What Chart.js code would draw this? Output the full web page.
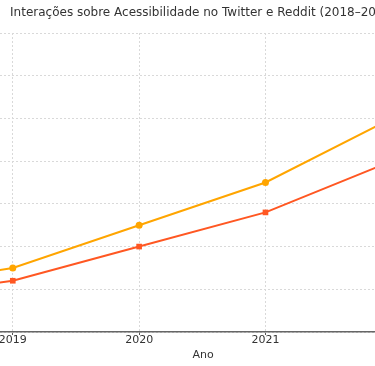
<!DOCTYPE html>
<html>
<head>
<meta charset="utf-8">
<script src="https://cdn.jsdelivr.net/npm/chart.js@4/dist/chart.umd.min.js"></script>
<style>
  html, body { margin: 0; padding: 0; background: #fff; overflow: hidden; width: 375px; height: 366px; }
  #wrap { position: absolute; left: 0; top: 0; width: 406px; height: 366px; }
</style>
</head>
<body>
<div id="wrap"><canvas id="c" width="406" height="366"></canvas></div>
<script>
const titleText = "Interações sobre Acessibilidade no Twitter e Reddit (2018–2022)";
const xAxisTitle = "Ano";
const years = [2018, 2019, 2020, 2021, 2022];
const tickYears = [2019, 2020, 2021];
const seriesA = [100, 150, 250, 350, 500];   // orange, circles
const seriesB = [80, 120, 200, 280, 400];    // red-orange, squares
const seriesAName = "Twitter";
const seriesBName = "Reddit";

const toPts = (vals) => years.map((y, i) => ({ x: y, y: vals[i] }));
const font = "'DejaVu Sans', sans-serif";

new Chart(document.getElementById('c'), {
  type: 'line',
  data: {
    datasets: [
      { label: seriesAName, data: toPts(seriesA), borderColor: '#FFA500', backgroundColor: '#FFA500',
        borderWidth: 2, pointRadius: 3.5, pointStyle: 'circle', pointBorderWidth: 0, tension: 0 },
      { label: seriesBName, data: toPts(seriesB), borderColor: '#FF5722', backgroundColor: '#FF5722',
        borderWidth: 2, pointRadius: 4, pointStyle: 'rect', pointBorderWidth: 0, tension: 0 }
    ]
  },
  options: {
    responsive: false,
    animation: false,
    layout: { padding: 0, autoPadding: false },
    plugins: {
      legend: { display: false },
      tooltip: { enabled: false },
      title: { display: true, text: titleText, color: '#333', font: { family: font, size: 12, weight: 'normal' },
               padding: { top: 5.5, bottom: 13.1 } }
    },
    scales: {
      x: {
        type: 'linear',
        min: 2019 - 12.8 / 126.5,
        max: 2021 + (406 - 265.3) / 126.5,
        afterBuildTicks: (s) => { s.ticks = tickYears.map(v => ({ value: v })); },
        afterFit: (s) => { s.height = 34; s.paddingLeft = 0; s.paddingRight = 0; },
        ticks: { autoSkip: false, color: '#333', font: { family: font, size: 11 }, padding: -1,
                 callback: (v) => String(v), maxRotation: 0 },
        grid: { color: '#d9d9d9', tickLength: 3, tickColor: '#555', tickBorderDash: [] },
        border: { display: true, color: '#666', width: 1.5, dash: [2, 2] },
        title: { display: true, text: xAxisTitle, color: '#333', font: { family: font, size: 11 }, padding: { top: 0, bottom: 4 } }
      },
      y: {
        min: 0, max: 700,
        ticks: { display: false, stepSize: 100 },
        grid: { color: '#d9d9d9', drawTicks: false },
        border: { display: false, dash: [2, 2] },
        afterFit: (s) => { s.width = 0; s.paddingTop = 0; s.paddingBottom = 0; }
      }
    }
  }
});
</script>
</body>
</html>
